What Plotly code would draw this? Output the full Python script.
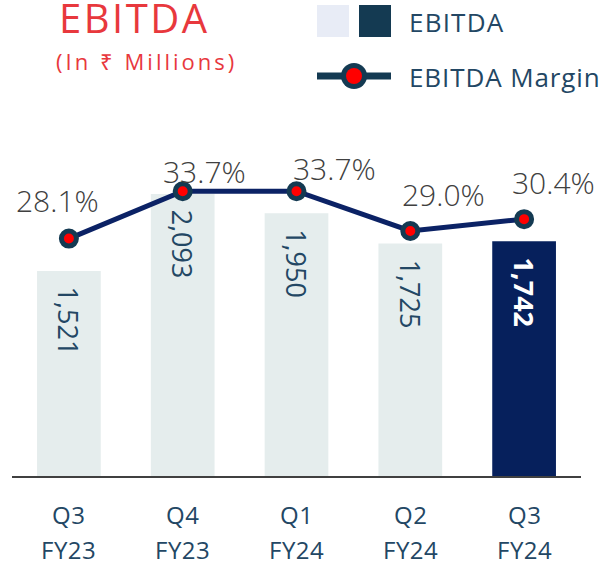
import plotly.graph_objects as go

quarters = ["Q3", "Q4", "Q1", "Q2", "Q3"]
years = ["FY23", "FY23", "FY24", "FY24", "FY24"]
categories = ["Q3 FY23", "Q4 FY23", "Q1 FY24", "Q2 FY24", "Q3 FY24"]
ebitda = [1521, 2093, 1950, 1725, 1742]
margin_pct = [28.1, 33.7, 33.7, 29.0, 30.4]
ebitda_labels = ["1,521", "2,093", "1,950", "1,725", "1,742"]
margin_labels = ["28.1%", "33.7%", "33.7%", "29.0%", "30.4%"]

W, H = 603, 569
L, R, T, B = 12, 22, 130, 93
PW, PH = W - L - R, H - T - B

def px(x):
    return (x - L) / PW

def py(y):
    return (H - B - y) / PH

def spaced(t, s):
    return '<span style="letter-spacing:%spx">%s</span>' % (s, t)

FONT = "Open Sans, Segoe UI, sans-serif"
LIGHT_BAR = "#e5eded"
DARK_BAR = "#06205c"
LINE = "#0b2265"
MK_EDGE = "#143a52"
TXT = "#234764"
RED = "#e8383d"

bar_colors = [LIGHT_BAR] * 4 + [DARK_BAR]

fig = go.Figure()
fig.add_trace(go.Bar(
    x=categories, y=ebitda, marker=dict(color=bar_colors, line=dict(width=0)),
    yaxis="y", showlegend=False, hoverinfo="skip",
))
fig.add_trace(go.Scatter(
    x=categories, y=margin_pct, yaxis="y2", mode="lines+markers",
    line=dict(color=LINE, width=5),
    marker=dict(color="#ff0000", size=15, line=dict(color=MK_EDGE, width=5)),
    showlegend=False, hoverinfo="skip",
))

annotations = []
# bar value labels (rotated)
for i, (c, v, t) in enumerate(zip(categories, ebitda, ebitda_labels)):
    last = i == len(categories) - 1
    annotations.append(dict(
        x=c, y=v, xref="x", yref="y", text=("<b>%s</b>" % t) if last else t,
        textangle=90, showarrow=False, yanchor="top", xanchor="center",
        yshift=-14, font=dict(family=FONT, size=27, color="#ffffff" if last else TXT),
    ))

# margin labels
label_shift = [(-11, 38), (22, 20), (38, 23), (33, 36), (29, 37)]
for (c, v, t), (dx, dy) in zip(zip(categories, margin_pct, margin_labels), label_shift):
    annotations.append(dict(
        x=c, y=v, xref="x", yref="y2", text=t, showarrow=False,
        xshift=dx, yshift=dy, xanchor="center", yanchor="middle",
        font=dict(family=FONT, size=30, color="#404040", weight=300),
    ))

# category labels
for c, q, yr in zip(categories, quarters, years):
    annotations.append(dict(x=c, y=py(514), xref="x", yref="paper", text=spaced(q, 0.5),
                            showarrow=False, yanchor="middle",
                            font=dict(family=FONT, size=24, color=TXT)))
    annotations.append(dict(x=c, y=py(549), xref="x", yref="paper", text=spaced(yr, 0.5),
                            showarrow=False, yanchor="middle",
                            font=dict(family=FONT, size=24, color=TXT)))

# title
annotations.append(dict(x=px(57), y=py(17), xref="paper", yref="paper",
                        text=spaced("EBITDA", 2.5),
                        showarrow=False, xanchor="left", yanchor="middle",
                        font=dict(family=FONT, size=40, color=RED)))
annotations.append(dict(x=px(54), y=py(61), xref="paper", yref="paper",
                        text=spaced("(In ₹ Millions)", 3), showarrow=False, xanchor="left",
                        yanchor="middle", font=dict(family=FONT, size=22, color=RED)))
# legend text
annotations.append(dict(x=px(407), y=py(22), xref="paper", yref="paper",
                        text=spaced("EBITDA", 1.2),
                        showarrow=False, xanchor="left", yanchor="middle",
                        font=dict(family=FONT, size=26, color=TXT)))
annotations.append(dict(x=px(407), y=py(77), xref="paper", yref="paper",
                        text=spaced("EBITDA Margin", 0.9), showarrow=False, xanchor="left",
                        yanchor="middle", font=dict(family=FONT, size=26, color=TXT)))

shapes = [
    dict(type="rect", xref="paper", yref="paper", x0=px(317), x1=px(349), y0=py(37), y1=py(5),
         fillcolor="#e8ecf6", line=dict(width=0)),
    dict(type="rect", xref="paper", yref="paper", x0=px(359), x1=px(391), y0=py(37), y1=py(5),
         fillcolor=MK_EDGE, line=dict(width=0)),
    dict(type="line", xref="paper", yref="paper", x0=px(317), x1=px(391), y0=py(76), y1=py(76),
         line=dict(color=MK_EDGE, width=7)),
    dict(type="circle", xref="paper", yref="paper", x0=px(341), x1=px(367), y0=py(89), y1=py(63),
         fillcolor=MK_EDGE, line=dict(width=0)),
    dict(type="circle", xref="paper", yref="paper", x0=px(346), x1=px(362), y0=py(84), y1=py(68),
         fillcolor="#ff0000", line=dict(width=0)),
]

fig.update_layout(
    width=W, height=H, margin=dict(l=L, r=R, t=T, b=B, autoexpand=False),
    paper_bgcolor="white", plot_bgcolor="white",
    bargap=0.44, showlegend=False,
    xaxis=dict(range=[-0.5, len(categories) - 0.5], showticklabels=False, showgrid=False,
               zeroline=False, showline=True, linecolor="#404040", linewidth=1.5, ticks=""),
    yaxis=dict(range=[0, 2567], visible=False, showgrid=False, fixedrange=True),
    yaxis2=dict(range=[0, 40.95], overlaying="y", visible=False, showgrid=False),
    annotations=annotations, shapes=shapes,
)

fig.write_html(
    "out.html",
    config={"displayModeBar": False},
    post_script="document.body.style.margin='0';document.body.style.overflow='hidden';",
)
